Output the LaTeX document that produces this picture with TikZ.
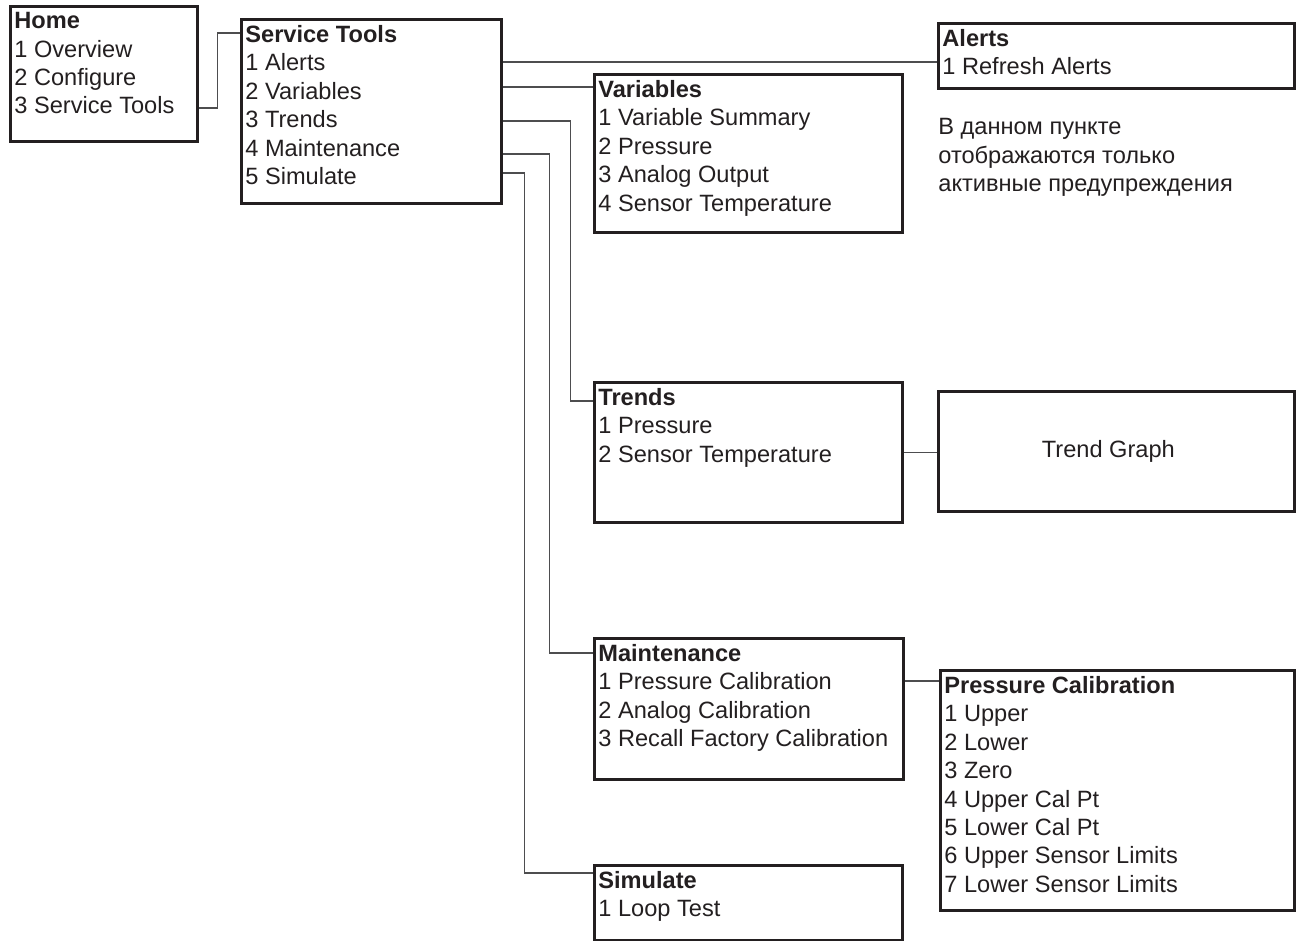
\documentclass[tikz,border=0pt]{standalone}
\usepackage{fontspec}
\setmainfont{Liberation Sans}
\usetikzlibrary{positioning}
\definecolor{inkline}{HTML}{231F20}
\definecolor{wireline}{HTML}{4D4D4F}
\tikzset{
  menubox/.style={draw=inkline,line width=1.35pt,inner sep=0pt,anchor=north west},
  menutext/.style={inner sep=0pt,align=left,anchor=north west,text=inkline,
    font=\fontsize{11.8}{14.2}\selectfont},
  wire/.style={draw=wireline,line width=0.6pt}
}
\begin{document}
\begin{tikzpicture}[x=0.5pt,y=-0.5pt]
\useasboundingbox (0,0) rectangle (1296,941);
% menu boxes
\node[menubox,minimum width=93.5pt,minimum height=67.5pt] (home) at (9,5) {};
\node[menutext,below right=3.5pt and 2.5pt of home.north west] (hometxt)
  {\textbf{Home}\\1 Overview\\2 Configure\\3 Service Tools};
\node[menubox,minimum width=130pt,minimum height=92pt] (st) at (240,18) {};
\node[menutext,below right=3.5pt and 2.5pt of st.north west] (sttxt)
  {\textbf{Service Tools}\\1 Alerts\\2 Variables\\3 Trends\\4 Maintenance\\5 Simulate};
\node[menubox,minimum width=178pt,minimum height=32.5pt] (alerts) at (937,22) {};
\node[menutext,below right=3.5pt and 2.5pt of alerts.north west] (alertstxt)
  {\textbf{Alerts}\\1 Refresh Alerts};
\node[menutext,anchor=north west] (note) at (938,118)
  {В данном пункте\\отображаются только\\активные предупреждения};
\node[menubox,minimum width=154pt,minimum height=79pt] (vars) at (593,73) {};
\node[menutext,below right=3.5pt and 2.5pt of vars.north west] (varstxt)
  {\textbf{Variables}\\1 Variable Summary\\2 Pressure\\3 Analog Output\\4 Sensor Temperature};
\node[menubox,minimum width=154pt,minimum height=70pt] (trends) at (593,381) {};
\node[menutext,below right=3.5pt and 2.5pt of trends.north west] (trendstxt)
  {\textbf{Trends}\\1 Pressure\\2 Sensor Temperature};
\node[menubox,minimum width=178pt,minimum height=60pt,
  font=\fontsize{11.8}{14.2}\selectfont,text=inkline] (graph) at (937,390)
  {Trend Graph\hspace*{8pt}};
\node[menubox,minimum width=154.5pt,minimum height=70.5pt] (maint) at (593,637) {};
\node[menutext,below right=3.5pt and 2.5pt of maint.north west] (mainttxt)
  {\textbf{Maintenance}\\1 Pressure Calibration\\2 Analog Calibration\\3 Recall Factory Calibration};
\node[menubox,minimum width=177pt,minimum height=120pt] (pcal) at (939,669) {};
\node[menutext,below right=3.5pt and 2.5pt of pcal.north west] (pcaltxt)
  {\textbf{Pressure Calibration}\\1 Upper\\2 Lower\\3 Zero\\4 Upper Cal Pt\\5 Lower Cal Pt\\6 Upper Sensor Limits\\7 Lower Sensor Limits};
\node[menubox,minimum width=154pt,minimum height=37.5pt] (sim) at (593,864) {};
\node[menutext,below right=3.5pt and 2.5pt of sim.north west] (simtxt)
  {\textbf{Simulate}\\1 Loop Test};
% pins on the menu rows
\coordinate (pin-home3) at (home.east |- 0,108);
\coordinate (pin-st0) at (st.west |- 0,33);
\coordinate (pin-st1) at (st.east |- 0,62);
\coordinate (pin-st2) at (st.east |- 0,87);
\coordinate (pin-st3) at (st.east |- 0,121);
\coordinate (pin-st4) at (st.east |- 0,154);
\coordinate (pin-st5) at (st.east |- 0,173);
\coordinate (pin-tr0) at (trends.west |- 0,401);
\coordinate (pin-mt0) at (maint.west |- 0,653);
\coordinate (pin-mt1) at (maint.east |- 0,681);
\coordinate (pin-sm0) at (sim.west |- 0,873);
% connectors
\draw[wire] (pin-home3) -- ++(19,0) |- (pin-st0);
\draw[wire] (pin-st1) -- (pin-st1 -| alerts.west);
\draw[wire] (pin-st2) -- (pin-st2 -| vars.west);
\draw[wire] (pin-st3) -- ++(68,0) |- (pin-tr0);
\draw[wire] (pin-st4) -- ++(47,0) |- (pin-mt0);
\draw[wire] (pin-st5) -- ++(22,0) |- (pin-sm0);
\draw[wire] (trends.east) -- (trends.east -| graph.west);
\draw[wire] (pin-mt1) -- (pin-mt1 -| pcal.west);
\end{tikzpicture}
\end{document}
